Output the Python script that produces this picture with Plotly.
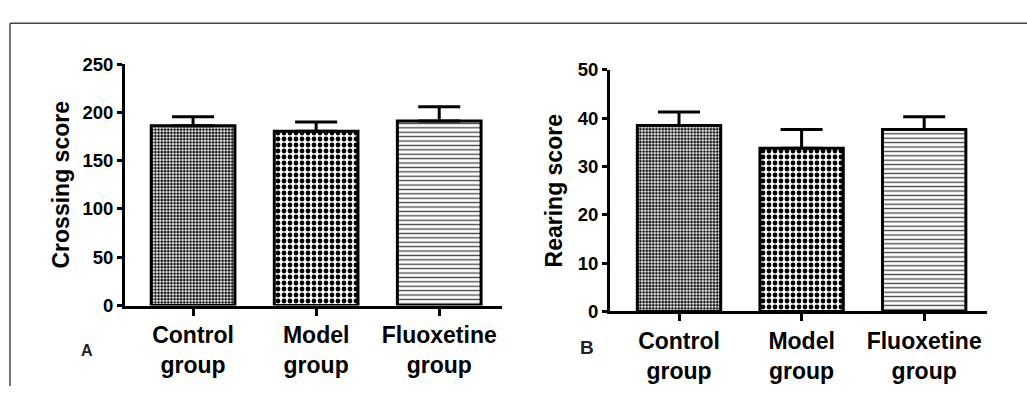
import plotly.graph_objects as go

categories = ["Control<br>group", "Model<br>group", "Fluoxetine<br>group"]
crossing_mean = [186, 180.5, 191]
crossing_sem = [9.5, 9.5, 14.7]
rearing_mean = [38.5, 33.8, 37.7]
rearing_sem = [2.8, 3.9, 2.6]
crossing_ticks = [0, 50, 100, 150, 200, 250]
rearing_ticks = [0, 10, 20, 30, 40, 50]

FONT = "Liberation Sans, Arial, Helvetica, sans-serif"
W, H = 1027, 396

pattern = dict(
    shape=[".", ".", "-"],
    size=[3.2, 6, 4.4],
    solidity=[0.6, 0.5, 0.3],
    fgcolor=["#111111", "#000000", "#444444"],
    bgcolor="white",
    fillmode="replace",
)

def bar_trace(y, err, xa, ya):
    return go.Bar(
        x=categories, y=y, xaxis=xa, yaxis=ya, width=0.68,
        marker=dict(color="white", line=dict(color="black", width=3), pattern=pattern),
        error_y=dict(type="data", array=err, arrayminus=[0] * len(err), symmetric=False,
                     color="black", thickness=3, width=21),
        showlegend=False, hoverinfo="skip",
    )

fig = go.Figure()
fig.add_trace(bar_trace(crossing_mean, crossing_sem, "x", "y"))
fig.add_trace(bar_trace(rearing_mean, rearing_sem, "x2", "y2"))

xcommon = dict(
    type="category", showline=True, linecolor="black", linewidth=3,
    ticks="outside", ticklen=7, tickwidth=3, tickcolor="black",
    tickfont=dict(family=FONT, size=23, color="black", weight="bold"),
    showgrid=False, zeroline=False, fixedrange=True,
)
ycommon = dict(
    showline=True, linecolor="black", linewidth=3,
    ticks="outside", ticklen=5, tickwidth=3, tickcolor="black",
    tickfont=dict(family=FONT, size=18.5, color="black", weight="bold"),
    showgrid=False, zeroline=False, fixedrange=True,
)

fig.update_layout(
    width=W, height=H,
    margin=dict(l=0, r=0, t=0, b=0),
    paper_bgcolor="white", plot_bgcolor="white",
    bargap=0.32,
    xaxis=dict(xcommon, domain=[125 / W, 502 / W], range=[-0.553, 2.51], anchor="y"),
    yaxis=dict(ycommon, domain=[1 - 311 / H, 1 - 56 / H], range=[0, 250],
               tickvals=crossing_ticks, anchor="x",
               title=dict(text="Crossing score", standoff=7,
                          font=dict(family=FONT, size=23, color="black", weight="bold"))),
    xaxis2=dict(xcommon, domain=[610 / W, 986.7 / W], range=[-0.563, 2.51], anchor="y2"),
    yaxis2=dict(ycommon, domain=[1 - 317.3 / H, 1 - 62.3 / H], range=[0, 50],
                tickvals=rearing_ticks, anchor="x2",
                title=dict(text="Rearing score", standoff=9,
                           font=dict(family=FONT, size=23, color="black", weight="bold"))),
    shapes=[
        dict(type="line", xref="paper", yref="paper", x0=10 / W, x1=1, y0=1 - 13 / H, y1=1 - 13 / H,
             line=dict(color="#444444", width=1.5)),
        dict(type="line", xref="paper", yref="paper", x0=10 / W, x1=10 / W, y0=0, y1=1 - 13 / H,
             line=dict(color="#444444", width=1.5)),
    ],
    annotations=[
        dict(text="A", xref="paper", yref="paper", x=87 / W, y=1 - 358 / H, showarrow=False,
             xanchor="center", yanchor="middle",
             font=dict(family=FONT, size=16, color="#222222", weight="bold")),
        dict(text="B", xref="paper", yref="paper", x=587 / W, y=1 - 355 / H, showarrow=False,
             xanchor="center", yanchor="middle",
             font=dict(family=FONT, size=19, color="#222222", weight="bold")),
    ],
)

fig.write_html("out.html")
